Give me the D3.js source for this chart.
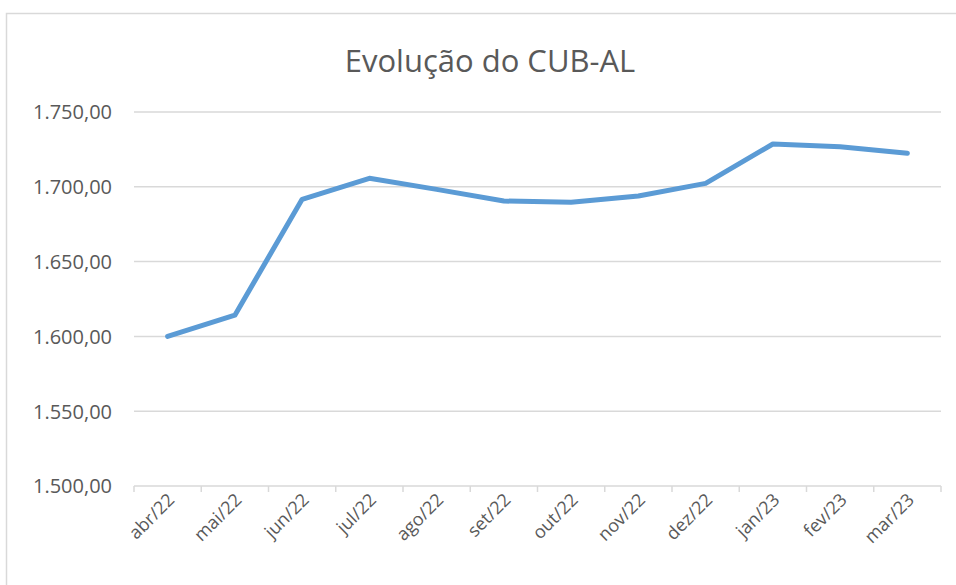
<!DOCTYPE html>
<html>
  <head>
    <meta charset="utf-8">
    <title>Evolução do CUB-AL</title>
    <script src="https://d3js.org/d3.v7.min.js"></script>
    <style>
      html, body { margin: 0; background: #fff; overflow: hidden; }
      #chart svg { display: block; }
      #chart text { font-family: "Open Sans", sans-serif; fill: #595959; }
    </style>
  </head>
  <body>
    <div id="chart"></div>
    <script>
      // dados
      var months = ["abr/22", "mai/22", "jun/22", "jul/22", "ago/22", "set/22",
                    "out/22", "nov/22", "dez/22", "jan/23", "fev/23", "mar/23"];
      var cub = [1600.0, 1614.2, 1691.6, 1705.7, 1698.3, 1690.5,
                 1689.6, 1693.9, 1702.3, 1728.6, 1726.8, 1722.4];
      var yTicks = [1500, 1550, 1600, 1650, 1700, 1750];

      var W = 956, H = 585;
      var margin = {top: 112, right: 15, bottom: 99, left: 134};
      var width = W - margin.left - margin.right,
          height = H - margin.top - margin.bottom;

      var svg = d3.select("#chart").append("svg")
        .attr("width", W)
        .attr("height", H);

      // moldura do gráfico (sai da imagem à direita e embaixo)
      svg.append("rect")
        .attr("x", 6.5).attr("y", 13.5)
        .attr("width", 980).attr("height", 620)
        .attr("fill", "none")
        .attr("stroke", "#d9d9d9")
        .attr("stroke-width", 1.5);

      svg.append("text")
        .attr("x", 490).attr("y", 72)
        .attr("text-anchor", "middle")
        .style("font-size", "31px")
        .text("Evolução do CUB-AL");

      var g = svg.append("g")
        .attr("transform", "translate(" + margin.left + "," + margin.top + ")");

      var x = d3.scaleBand().domain(months).range([0, width]);
      var y = d3.scaleLinear().domain([1500, 1750]).range([height, 0]);

      var fmt = function(v) {
        return d3.format(",.2f")(v).replace(/,/g, "#").replace(".", ",").replace(/#/g, ".");
      };

      // grade horizontal
      g.append("g")
        .selectAll("line")
        .data(yTicks.filter(function(d) { return d > 1500; }))
        .join("line")
          .attr("x1", 0).attr("x2", width)
          .attr("y1", function(d) { return y(d); })
          .attr("y2", function(d) { return y(d); })
          .attr("stroke", "#d9d9d9")
          .attr("stroke-width", 1.5);

      var yAxis = g.append("g")
        .call(d3.axisLeft(y).tickValues(yTicks).tickFormat(fmt).tickSize(0).tickPadding(22));
      yAxis.select(".domain").remove();
      yAxis.selectAll("text").style("font-size", "20px").attr("dy", "0.34em");

      // eixo x com marcas nas divisões
      var xAxis = g.append("g")
        .attr("transform", "translate(0," + height + ")")
        .call(d3.axisBottom(x).tickSize(0).tickPadding(0));
      xAxis.select(".domain")
        .attr("stroke", "#d9d9d9").attr("stroke-width", 1.5)
        .attr("d", "M0,0H" + width);
      xAxis.selectAll(".tick line").remove();
      xAxis.selectAll(".sep")
        .data(months.concat(["end"]))
        .join("line")
          .attr("class", "sep")
          .attr("x1", function(d, i) { return i * x.step(); })
          .attr("x2", function(d, i) { return i * x.step(); })
          .attr("y1", 0).attr("y2", 6)
          .attr("stroke", "#d9d9d9").attr("stroke-width", 1.5);
      xAxis.selectAll(".tick text")
        .style("font-size", "18px")
        .attr("text-anchor", "end")
        .attr("dy", "0")
        .attr("transform", "translate(8,15) rotate(-45)");

      var line = d3.line()
        .x(function(d, i) { return x(months[i]) + x.bandwidth() / 2; })
        .y(function(d) { return y(d); });

      g.append("path")
        .datum(cub)
        .attr("d", line)
        .attr("fill", "none")
        .attr("stroke", "#5b9bd5")
        .attr("stroke-width", 5)
        .attr("stroke-linecap", "round")
        .attr("stroke-linejoin", "round");
    </script>
  </body>
</html>
